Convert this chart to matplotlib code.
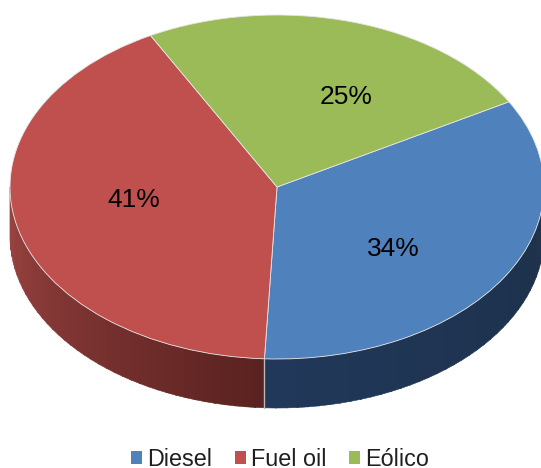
import numpy as np
import matplotlib
matplotlib.use('Agg')
from matplotlib import pyplot as plt
from matplotlib.colors import to_rgb
from matplotlib.patches import Polygon

plt.rcParams['font.family'] = ['Liberation Sans', 'DejaVu Sans']

categories = ['Diesel', 'Fuel oil', 'Eólico']
shares = [34.0, 41.4, 24.6]
colors = ['#4f81bd', '#c0504d', '#9bbb59']

W, H = 541, 468
cx, cy = 277, 187    # centro de la elipse, en pixeles
rx, ry = 267, 172
depth = 49 / ry
start = 29.7

fig = plt.figure(figsize=(W / 100, H / 100), dpi=100)
ax = fig.add_axes([0, 0, 1, 1])

# lado del pastel: tiras finas con degradado
edges = start - np.cumsum([0] + shares) * 3.6
seam_deg = edges[1]
side = [(seam_deg, 0, '#21385a', '#1c3049'), (-180, seam_deg, '#9c4442', '#5a2220')]
for a0, a1, c0, c1 in side:
    steps = np.linspace(a0, a1, 41)
    for j in range(40):
        t = np.radians(np.linspace(steps[j], steps[j + 1] + 0.3, 4))
        x, y = np.cos(t), np.sin(t)
        pts = np.r_[np.c_[x, y], np.c_[x[::-1], y[::-1] - depth]]
        f = j / 39
        col = (1 - f) * np.array(to_rgb(c0)) + f * np.array(to_rgb(c1))
        ax.add_patch(Polygon(pts, closed=True, fc=col, ec=col, lw=0.4))

# costura entre Diesel y Fuel oil
seam = np.radians(seam_deg)
ax.plot([np.cos(seam)] * 2, [np.sin(seam), np.sin(seam) - depth], color='#b9b9b9', lw=1)

wedges, _ = ax.pie(shares, colors=colors, startangle=start, counterclock=False, radius=1,
                   center=(0, 0), frame=True,
                   wedgeprops={'edgecolor': '#e6e6e6', 'linewidth': 0.6})

ax.set_aspect('auto')
ax.set_xlim(-cx / rx, (W - cx) / rx)
ax.set_ylim((cy - H) / ry, cy / ry)
ax.axis('off')

label_px = {'Diesel': (393, 249), 'Fuel oil': (134, 200), 'Eólico': (346, 97)}
for name, v in zip(categories, shares):
    px, py = label_px[name]
    ax.text(px / W, 1 - py / H, f'{v:.0f}%', transform=ax.transAxes, ha='center', va='center',
            fontsize=19, color='black')

leg = ax.legend(wedges, categories, loc='center', bbox_to_anchor=(280 / W, 1 - 459.5 / H),
                ncol=3, frameon=False, fontsize=16.8, handlelength=0.47, handleheight=0.47,
                handletextpad=0.22, columnspacing=0.96, labelcolor='#1f1f1f',
                borderpad=0, borderaxespad=0)
for h in leg.legend_handles:
    h.set_edgecolor('none')

fig.savefig('out.png', dpi=100, facecolor='white')
